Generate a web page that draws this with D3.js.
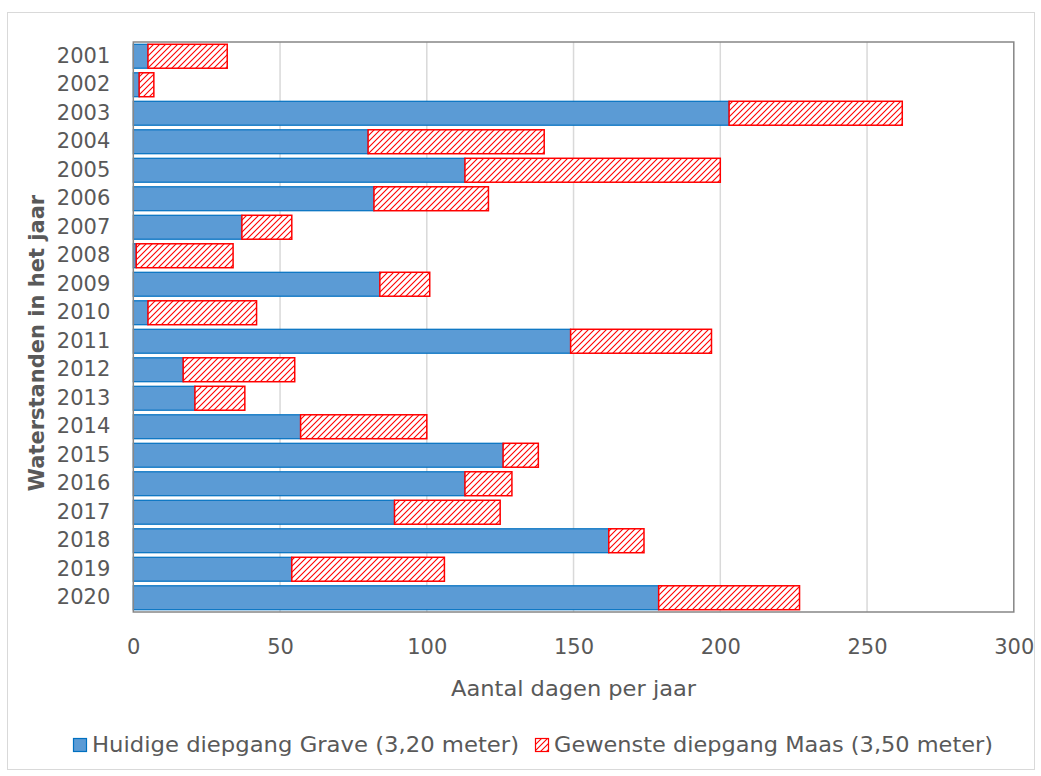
<!DOCTYPE html>
<html>
<head>
<meta charset="utf-8">
<script src="https://cdn.jsdelivr.net/npm/d3@7"></script>
<style>
  body { margin: 0; background: #fff; }
  text { font-family: "DejaVu Sans", Verdana, sans-serif; fill: #595959; }
</style>
</head>
<body>
<svg id="chart" width="1041" height="776"></svg>
<script>
const years = ['2001', '2002', '2003', '2004', '2005', '2006', '2007', '2008', '2009', '2010',
  '2011', '2012', '2013', '2014', '2015', '2016', '2017', '2018', '2019', '2020'];
// Days per year below 3,20 m at Grave
const huidige = [5, 2, 203, 80, 113, 82, 37, 1, 84, 5, 149, 17, 21, 57, 126, 113, 89, 162, 54, 179];
// Extra days below the desired 3,50 m
const gewenst = [27, 5, 59, 60, 87, 39, 17, 33, 17, 37, 48, 38, 17, 43, 12, 16, 36, 12, 52, 48];
const xTicks = [0, 50, 100, 150, 200, 250, 300];
const seriesNames = ['Huidige diepgang Grave (3,20 meter)', 'Gewenste diepgang Maas (3,50 meter)'];

const svg = d3.select('#chart');
const plot = { left: 133.3, right: 1013.8, top: 42, bottom: 612 };
const fontSize = 21;

const defs = svg.append('defs');
const pat = defs.append('pattern')
  .attr('id', 'hatch')
  .attr('patternUnits', 'userSpaceOnUse')
  .attr('width', 6)
  .attr('height', 6);
pat.append('rect').attr('width', 6).attr('height', 6).attr('fill', '#fff');
pat.append('path')
  .attr('d', 'M-1,7 L7,-1 M-4,4 L4,-4 M2,10 L10,2')
  .attr('stroke', '#ff0000')
  .attr('stroke-width', 1.1);

// outer chart border
svg.append('rect')
  .attr('x', 7.5).attr('y', 12.5)
  .attr('width', 1027).attr('height', 757)
  .attr('fill', 'none')
  .attr('stroke', '#d9d9d9');

const x = d3.scaleLinear().domain([0, 300]).range([plot.left, plot.right]);
const y = d3.scaleBand().domain(years).range([plot.top, plot.bottom]).paddingInner(0.16).paddingOuter(0.08);

// gridlines
svg.append('g').selectAll('line')
  .data(xTicks.slice(1, -1))
  .join('line')
  .attr('x1', d => x(d)).attr('x2', d => x(d))
  .attr('y1', plot.top).attr('y2', plot.bottom)
  .attr('stroke', '#d9d9d9')
  .attr('stroke-width', 1.5);

const rows = years.map((yr, i) => ({ yr, a: huidige[i], b: gewenst[i] }));

svg.append('g').selectAll('rect')
  .data(rows.filter(d => d.a > 0))
  .join('rect')
  .attr('x', x(0))
  .attr('y', d => y(d.yr))
  .attr('width', d => x(d.a) - x(0))
  .attr('height', y.bandwidth())
  .attr('fill', '#5b9bd5')
  .attr('stroke', '#0070c0')
  .attr('stroke-width', 1.2);

svg.append('g').selectAll('rect')
  .data(rows)
  .join('rect')
  .attr('x', d => x(d.a))
  .attr('y', d => y(d.yr))
  .attr('width', d => x(d.a + d.b) - x(d.a))
  .attr('height', y.bandwidth())
  .attr('fill', 'url(#hatch)')
  .attr('stroke', '#ff0000')
  .attr('stroke-width', 1.5);

// plot box
svg.append('rect')
  .attr('x', plot.left).attr('y', plot.top)
  .attr('width', plot.right - plot.left).attr('height', plot.bottom - plot.top)
  .attr('fill', 'none')
  .attr('stroke', '#868686')
  .attr('stroke-width', 1.5);

// axes
const xAxis = svg.append('g')
  .attr('transform', `translate(0,${plot.bottom})`)
  .call(d3.axisBottom(x).tickValues(xTicks).tickSize(0).tickPadding(27));
xAxis.select('.domain').remove();
xAxis.selectAll('text').attr('font-size', fontSize).style('font-family', 'DejaVu Sans').attr('fill', '#595959');

const yAxis = svg.append('g')
  .attr('transform', `translate(${plot.left},0)`)
  .call(d3.axisLeft(y).tickSize(0).tickPadding(23));
yAxis.select('.domain').remove();
yAxis.selectAll('text').attr('font-size', fontSize).style('font-family', 'DejaVu Sans').attr('fill', '#595959');

svg.append('text')
  .attr('x', (plot.left + plot.right) / 2)
  .attr('y', 696)
  .attr('text-anchor', 'middle')
  .attr('font-size', fontSize)
  .attr('textLength', 245)
  .attr('lengthAdjust', 'spacingAndGlyphs')
  .text('Aantal dagen per jaar');

svg.append('text')
  .attr('transform', `translate(44,343) rotate(-90)`)
  .attr('text-anchor', 'middle')
  .attr('font-size', fontSize)
  .attr('font-weight', 'bold')
  .text('Waterstanden in het jaar');

// legend
const legend = svg.append('g').attr('transform', 'translate(0,745)');
const legendItems = [
  { name: seriesNames[0], x: 73, len: 427, fill: '#5b9bd5', stroke: '#0070c0' },
  { name: seriesNames[1], x: 535, len: 439, fill: 'url(#hatch)', stroke: '#ff0000' }
];
const li = legend.selectAll('g').data(legendItems).join('g')
  .attr('transform', d => `translate(${d.x},0)`);
li.append('rect')
  .attr('x', 0.5).attr('y', -6.5)
  .attr('width', 13).attr('height', 13)
  .attr('fill', d => d.fill)
  .attr('stroke', d => d.stroke)
  .attr('stroke-width', 1.2);
li.append('text')
  .attr('x', 19).attr('y', 7)
  .attr('font-size', fontSize)
  .attr('textLength', d => d.len)
  .attr('lengthAdjust', 'spacingAndGlyphs')
  .text(d => d.name);
</script>
</body>
</html>
